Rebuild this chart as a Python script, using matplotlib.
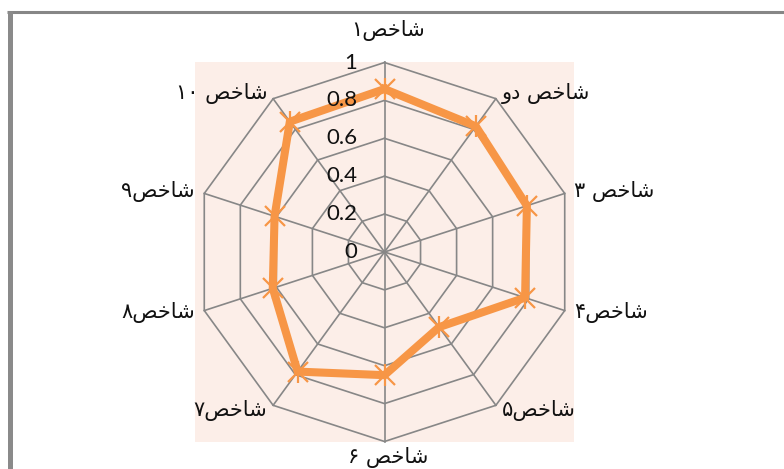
import numpy as np
import matplotlib
matplotlib.use("Agg")
import matplotlib.pyplot as plt
from matplotlib.lines import Line2D
from matplotlib.patches import Rectangle

# ---------------- data ----------------
categories = ['شاخص۱', 'شاخص دو', 'شاخص ۳', 'شاخص۴', 'شاخص۵',
              'شاخص ۶', 'شاخص۷', 'شاخص۸', 'شاخص۹', 'شاخص ۱۰']
values = [0.86, 0.82, 0.79, 0.78, 0.49, 0.65, 0.78, 0.62, 0.61, 0.85]
ring_levels = [0, 0.2, 0.4, 0.6, 0.8, 1.0]
ring_labels = ['0', '0.2', '0.4', '0.6', '0.8', '1']

# ------------- minimal Persian shaping (presentation forms + visual order) -------------
FORMS = {  # iso, fin, ini, med ; None => right-joining only
    'ا': ('\uFE8D', '\uFE8E', None, None),
    'خ': ('\uFEA5', '\uFEA6', '\uFEA7', '\uFEA8'),
    'د': ('\uFEA9', '\uFEAA', None, None),
    'ش': ('\uFEB5', '\uFEB6', '\uFEB7', '\uFEB8'),
    'ص': ('\uFEB9', '\uFEBA', '\uFEBB', '\uFEBC'),
    'و': ('\uFEED', '\uFEEE', None, None),
}


def dual(c):
    return c in FORMS and FORMS[c][2] is not None


def shape(s):
    out = []
    for i, c in enumerate(s):
        if c not in FORMS:
            out.append(c)
            continue
        prev_j = i > 0 and dual(s[i - 1])
        next_j = dual(c) and i + 1 < len(s) and s[i + 1] in FORMS
        iso, fin, ini, med = FORMS[c]
        if prev_j and next_j:
            out.append(med)
        elif prev_j:
            out.append(fin)
        elif next_j:
            out.append(ini)
        else:
            out.append(iso)
    shaped = ''.join(out)
    # bidi: keep digit runs LTR, reverse everything else
    runs, cur, cur_digit = [], '', None
    for ch in shaped:
        d = '\u06F0' <= ch <= '\u06F9'
        if cur and d != cur_digit:
            runs.append((cur, cur_digit))
            cur = ''
        cur += ch
        cur_digit = d
    if cur:
        runs.append((cur, cur_digit))
    vis = [r if d else r[::-1] for r, d in runs]
    return ''.join(vis[::-1])


# ---------------- figure ----------------
W, H = 784, 469
fig = plt.figure(figsize=(W / 100, H / 100), dpi=100)
fig.patch.set_facecolor('white')

ax_box = [195 / W, (H - 442) / H, 379 / W, 380 / H]
fig.add_artist(Rectangle((ax_box[0], ax_box[1]), ax_box[2], ax_box[3],
                         transform=fig.transFigure, facecolor='#FCEEE8',
                         edgecolor='none', zorder=-5))

ax = fig.add_axes(ax_box, projection='polar')
ax.patch.set_visible(False)
ax.set_theta_zero_location('N')
ax.set_theta_direction(-1)
ax.set_ylim(0, 1)
ax.grid(False)
ax.set_xticks([])
ax.set_yticks([])
ax.spines['polar'].set_visible(False)

n = len(categories)
theta = np.arange(n) * 2 * np.pi / n
theta_closed = np.append(theta, theta[0])

grid_color = '#878787'
for lv in ring_levels[1:]:
    ax.plot(theta_closed, [lv] * (n + 1), color=grid_color, lw=1.2,
            clip_on=False, zorder=1)
for t in theta:
    ax.plot([t, t], [0, 1], color=grid_color, lw=1.2, clip_on=False, zorder=1)

orange = '#F79646'
vals_closed = values + values[:1]
ax.plot(theta_closed, vals_closed, color=orange, lw=5.8, zorder=3,
        solid_joinstyle='miter', clip_on=False)
ax.plot(theta, values, linestyle='none', marker='x', ms=14, mew=1.6,
        color=orange, zorder=4, clip_on=False)
ax.plot(theta, values, linestyle='none', marker='|', ms=16, mew=1.6,
        color=orange, zorder=4, clip_on=False)

# radial tick labels
for lv, lab in zip(ring_levels, ring_labels):
    ax.annotate(lab, xy=(0, lv), xytext=(-27, 0), textcoords='offset pixels',
                ha='right', va='center', fontsize=16, family=['Lato', 'DejaVu Sans'],
                color='#111111', annotation_clip=False, zorder=5)

# category labels
for i, (t, cat) in enumerate(zip(theta, categories)):
    s, c = np.sin(t), np.cos(t)
    va = 'center'
    if abs(s) < 0.1:
        ha = 'center'
        if c > 0:
            dx, dy = 4, 32
        else:
            dx, dy, va = 4, -6, 'top'
    else:
        ha = 'left' if s > 0 else 'right'
        dx, dy = 10 * s, 6 * c
    ax.annotate(shape(cat), xy=(t, 1), xytext=(dx, dy), textcoords='offset pixels',
                ha=ha, va=va, fontsize=15, family=['DejaVu Sans'],
                color='#111111', annotation_clip=False)

# outer frame lines (partial border of the original chart area)
fig.add_artist(Line2D([7 / W, 1], [1 - 12.5 / H, 1 - 12.5 / H],
                      transform=fig.transFigure, color='#868686', lw=2.2,
                      solid_capstyle='butt'))
fig.add_artist(Line2D([9.5 / W, 9.5 / W], [0, 1 - 11 / H],
                      transform=fig.transFigure, color='#8A8A8A', lw=3.6,
                      solid_capstyle='butt'))

fig.savefig('out.png', dpi=100, facecolor='white')
